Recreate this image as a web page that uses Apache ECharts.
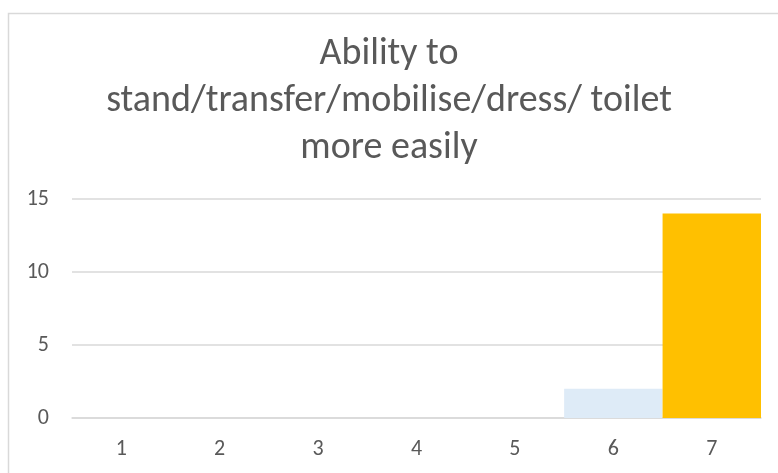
<!DOCTYPE html>
<html><head><meta charset="utf-8">
<script src="https://cdn.jsdelivr.net/npm/echarts@6/dist/echarts.min.js"></script>
<style>html,body{margin:0;padding:0;background:#fff}#c{width:778px;height:473px}</style>
</head><body><div id="c"></div>
<script>
const categories = ['1','2','3','4','5','6','7'];
const values = [0,0,0,0,0,2,14];
const barColors = ['#5B9BD5','#ED7D31','#A5A5A5','#4472C4','#70AD47','#DEEBF7','#FFC000'];
const titleText = 'Ability to\nstand/transfer/mobilise/dress/ toilet\nmore easily';
const yTicks = {min:0, max:15, interval:5};

const font = 'Carlito, Calibri, "Liberation Sans Narrow", "Open Sans", sans-serif';
const chart = echarts.init(document.getElementById('c'), null, {renderer:'canvas'});
chart.setOption({
  animation:false,
  backgroundColor:'#fff',
  graphic:[{type:'rect', shape:{x:8.5,y:13.5,width:900,height:600}, style:{fill:'none', stroke:'#d9d9d9', lineWidth:1.5}, silent:true, z:-1}],
  title:{text:titleText, left:'center', top:26,
    textStyle:{fontFamily:font, fontSize:38, fontWeight:'normal', color:'#595959', lineHeight:47}},
  grid:{left:72, right:17, top:199, bottom:55, containLabel:false},
  xAxis:{type:'category', data:categories,
    axisLine:{lineStyle:{color:'#d9d9d9', width:1.5}}, axisTick:{show:false},
    axisLabel:{color:'#595959', fontSize:22, fontFamily:font, margin:20}},
  yAxis:{type:'value', min:yTicks.min, max:yTicks.max, interval:yTicks.interval,
    axisLine:{show:false}, axisTick:{show:false},
    splitLine:{lineStyle:{color:'#d9d9d9', width:1.5}},
    axisLabel:{color:'#595959', fontSize:22, fontFamily:font, margin:23}},
  series:[{type:'bar', barCategoryGap:'0%', barGap:'0%',
    data: values.map((v,i)=>({value:v, itemStyle:{color:barColors[i]}}))}]
});
</script></body></html>
